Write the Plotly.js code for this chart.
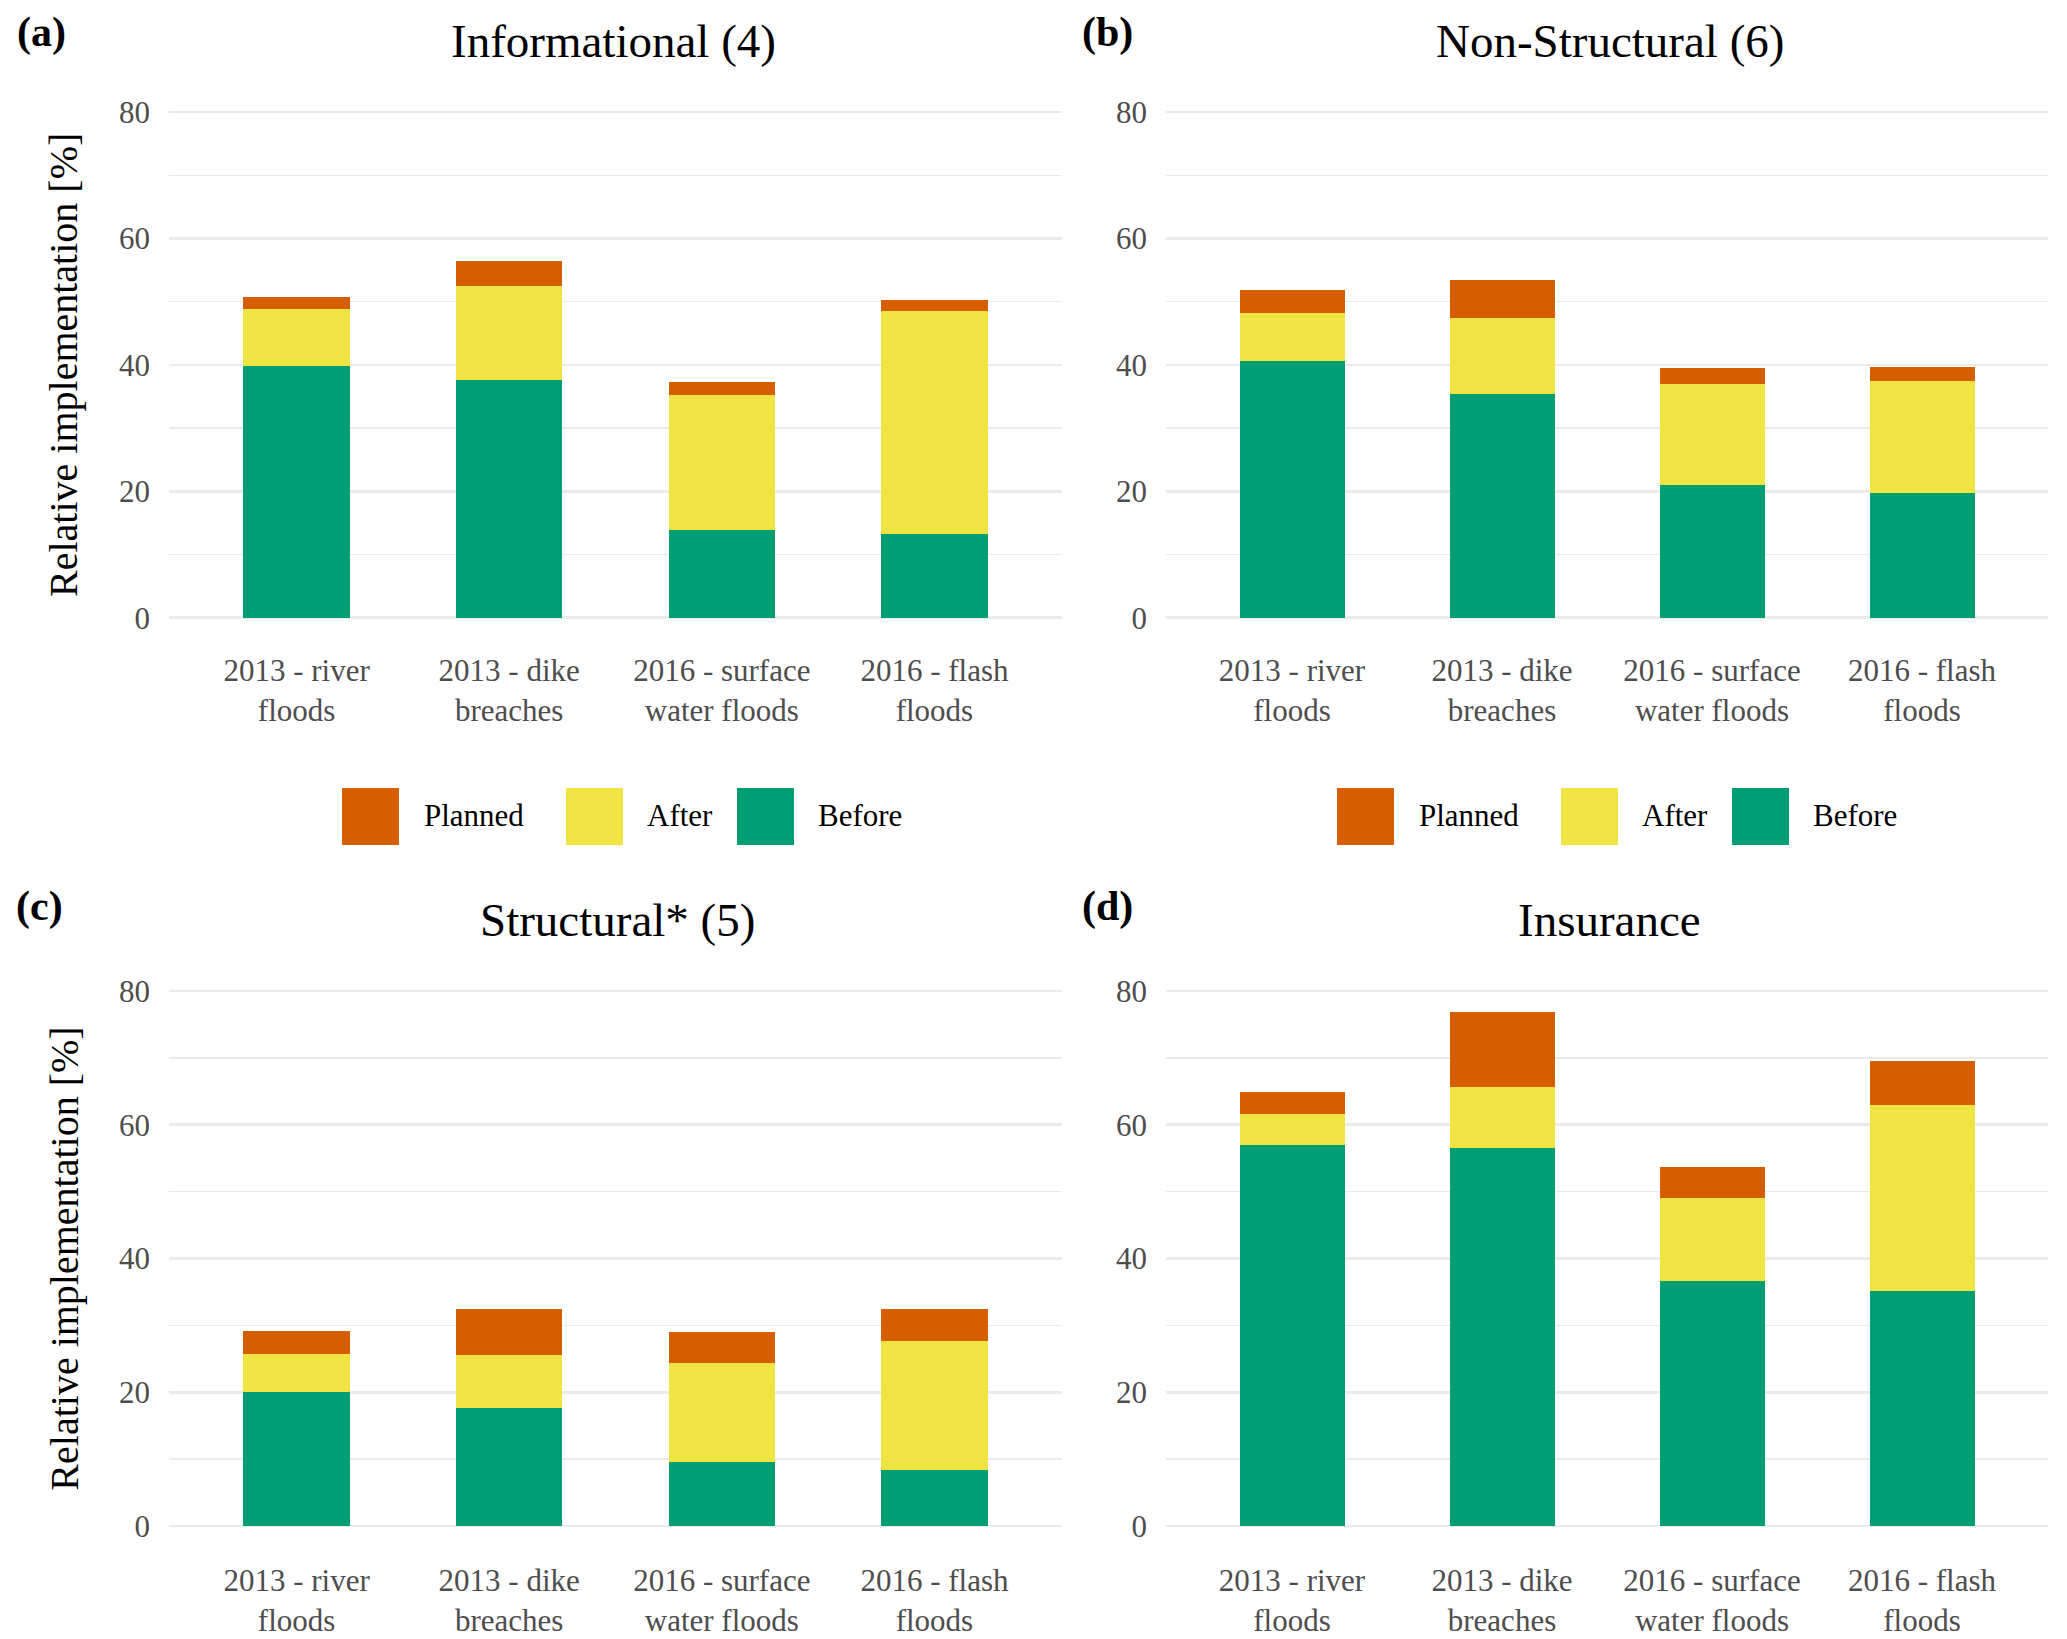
<!DOCTYPE html>
<html>
<head>
<meta charset="utf-8">
<script src="https://cdn.plot.ly/plotly-3.0.1.min.js"></script>
<style>html,body{margin:0;padding:0;background:#fff;}#chart{width:2067px;height:1639px;}</style>
</head>
<body>
<div id="chart"></div>
<script>
// ---------- data ----------
const categories = ["2013 - river floods", "2013 - dike breaches", "2016 - surface water floods", "2016 - flash floods"];
const tickLabels = ["2013 - river<br>floods", "2013 - dike<br>breaches", "2016 - surface<br>water floods", "2016 - flash<br>floods"];
const seriesNames = ["Before", "After", "Planned"];
const panelTitles = ["Informational (4)", "Non-Structural (6)", "Structural* (5)", "Insurance"];
const panelLetters = ["(a)", "(b)", "(c)", "(d)"];
const yTickValues = [0, 20, 40, 60, 80];
const yAxisLabel = "Relative implementation [%]";

// segment values [%] per panel: Before, After, Planned
const informationalBefore  = [39.8, 37.6, 13.9, 13.2];
const informationalAfter   = [9.1, 14.8, 21.3, 35.3];
const informationalPlanned = [1.8, 4.1, 2.1, 1.7];

const nonStructuralBefore  = [40.6, 35.4, 21.0, 19.7];
const nonStructuralAfter   = [7.6, 12.0, 15.9, 17.7];
const nonStructuralPlanned = [3.7, 6.1, 2.6, 2.2];

const structuralBefore  = [20.1, 17.6, 9.5, 8.4];
const structuralAfter   = [5.6, 7.9, 14.9, 19.2];
const structuralPlanned = [3.5, 6.9, 4.6, 4.8];

const insuranceBefore  = [57.0, 56.5, 36.7, 35.2];
const insuranceAfter   = [4.6, 9.1, 12.4, 27.7];
const insurancePlanned = [3.3, 11.2, 4.6, 6.7];

// ---------- styling ----------
const W = 2067, H = 1639;
const FONT = "Liberation Serif, Times New Roman, serif";
const colors = {Before: "#009E73", After: "#F0E442", Planned: "#D55E00"};
const px = v => v / W;
const py = v => 1 - v / H;

const panels = [
  {data: [informationalBefore, informationalAfter, informationalPlanned], xa: "x",  ya: "y"},
  {data: [nonStructuralBefore, nonStructuralAfter, nonStructuralPlanned], xa: "x2", ya: "y2"},
  {data: [structuralBefore, structuralAfter, structuralPlanned],          xa: "x3", ya: "y3"},
  {data: [insuranceBefore, insuranceAfter, insurancePlanned],             xa: "x4", ya: "y4"}
];

const traces = [];
panels.forEach((p) => {
  seriesNames.forEach((name, si) => {
    traces.push({
      type: "bar",
      name: name,
      x: categories,
      y: p.data[si],
      xaxis: p.xa,
      yaxis: p.ya,
      width: 0.5,
      marker: {color: colors[name], line: {width: 0}},
      showlegend: false,
      hovertemplate: name + ": %{y}<extra></extra>"
    });
  });
});

const colDomains = [[px(169), px(1062)], [px(1166), px(2048)]];
const rowDomains = [[py(643), py(86.7)], [py(1552.75), py(964.25)]];

function xAxis(col, row) {
  return {
    domain: colDomains[col],
    anchor: ["y", "y2", "y3", "y4"][row * 2 + col],
    type: "category",
    range: [-0.6, 3.6],
    tickvals: categories,
    ticktext: tickLabels,
    showgrid: false, zeroline: false, showline: false,
    ticks: "",
    ticklabelstandoff: 6,
    tickfont: {family: FONT, size: 31, color: "#4D4D4D"},
    fixedrange: true
  };
}
function yAxis(col, row) {
  const ax = {
    domain: rowDomains[row],
    anchor: ["x", "x2", "x3", "x4"][row * 2 + col],
    range: [-4, 84],
    tickmode: "array",
    tickvals: yTickValues,
    showgrid: true, gridcolor: "#EBEBEB", gridwidth: 2.7,
    minor: {dtick: 10, tick0: 0, showgrid: true, gridcolor: "#EBEBEB", gridwidth: 1.4, ticks: ""},
    zeroline: false, showline: false,
    ticks: "",
    ticklabelstandoff: 18,
    tickfont: {family: FONT, size: 31, color: "#4D4D4D"},
    fixedrange: true
  };
  if (col === 0) {
    ax.title = {text: yAxisLabel, font: {family: FONT, size: 40, color: "#000"}, standoff: 28};
  }
  return ax;
}

const layout = {
  width: W, height: H,
  margin: {l: 0, r: 0, t: 0, b: 0, pad: 0},
  paper_bgcolor: "#fff", plot_bgcolor: "#fff",
  barmode: "stack",
  showlegend: false,
  font: {family: FONT, color: "#000"},
  xaxis: xAxis(0, 0), yaxis: yAxis(0, 0),
  xaxis2: xAxis(1, 0), yaxis2: yAxis(1, 0),
  xaxis3: xAxis(0, 1), yaxis3: yAxis(0, 1),
  xaxis4: xAxis(1, 1), yaxis4: yAxis(1, 1),
  annotations: [],
  shapes: []
};

// panel titles and letters
const titlePos = [[613, 41], [1610, 41], [617, 920], [1609, 920]];
const letterPos = [[15, 33], [1080, 33], [14, 906], [1080, 906]];
panelTitles.forEach((t, i) => {
  layout.annotations.push({
    text: t, xref: "paper", yref: "paper",
    x: px(titlePos[i][0]), y: py(titlePos[i][1]),
    xanchor: "center", yanchor: "middle", showarrow: false,
    font: {family: FONT, size: 47, color: "#000"}
  });
  layout.annotations.push({
    text: "<b>" + panelLetters[i] + "</b>", xref: "paper", yref: "paper",
    x: px(letterPos[i][0]), y: py(letterPos[i][1]),
    xanchor: "left", yanchor: "middle", showarrow: false,
    font: {family: FONT, size: 42, color: "#000"}
  });
});

// legends under the top row (keys drawn as layout shapes)
const legendOrder = ["Planned", "After", "Before"];
const keyLeft = [342, 566, 737];
const textLeft = [422, 645, 816];
const legendShift = [0, 995];
legendShift.forEach((s) => {
  legendOrder.forEach((name, i) => {
    layout.shapes.push({
      type: "rect", xref: "paper", yref: "paper",
      x0: px(keyLeft[i] + s), x1: px(keyLeft[i] + s + 57),
      y0: py(845), y1: py(788),
      fillcolor: colors[name], line: {width: 0}
    });
    layout.annotations.push({
      text: name, xref: "paper", yref: "paper",
      x: px(textLeft[i] + s), y: py(816),
      xanchor: "left", yanchor: "middle", showarrow: false,
      font: {family: FONT, size: 31, color: "#000"}
    });
  });
});

Plotly.newPlot("chart", traces, layout, {displayModeBar: false, staticPlot: true});
</script>
</body>
</html>
